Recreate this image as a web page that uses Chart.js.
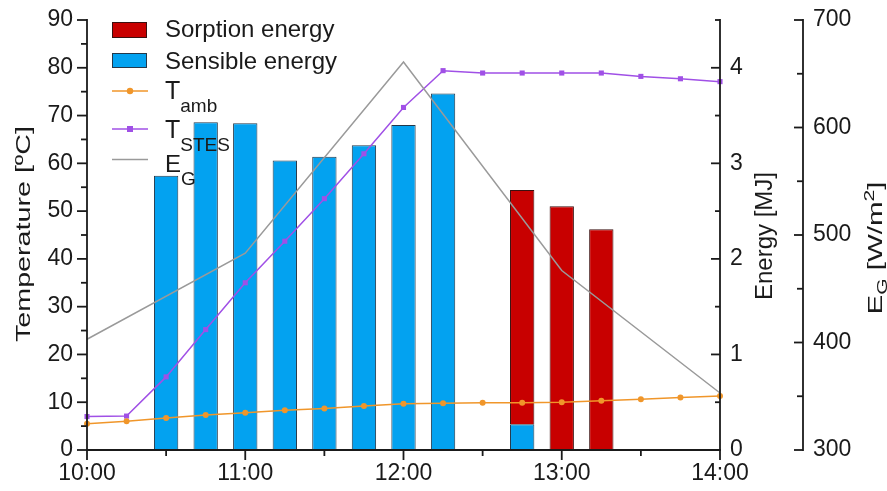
<!DOCTYPE html>
<html>
<head>
<meta charset="utf-8">
<script src="https://cdn.jsdelivr.net/npm/chart.js@4.4.1/dist/chart.umd.min.js"></script>
<style>
  html, body { margin: 0; padding: 0; background: #ffffff; }
  canvas { display: block; }
</style>
</head>
<body>
<canvas id="chart" width="887" height="491"></canvas>
<script>
// Time of day, every 15 minutes
const times = ['10:00','10:15','10:30','10:45','11:00','11:15','11:30','11:45',
               '12:00','12:15','12:30','12:45','13:00','13:15','13:30','13:45','14:00'];
const hourLabels = ['10:00','11:00','12:00','13:00','14:00'];

// Energy stored per interval [MJ]
const sensibleEnergy = [null, null, 2.87, 3.43, 3.42, 3.03, 3.07, 3.19, 3.40, 3.73,
                        null, 0.27, null, null, null, null, null];
const sorptionEnergy = [null, null, null, null, null, null, null, null, null, null,
                        null, 2.45, 2.55, 2.31, null, null, null];

// Temperatures [°C]
const tAmb  = [5.5, 6.0, 6.7, 7.3, 7.8, 8.3, 8.7, 9.2, 9.7, 9.8, 9.9, 9.9, 10.0, 10.3, 10.6, 11.0, 11.3];
const tStes = [7.0, 7.1, 15.3, 25.2, 35.0, 43.7, 52.6, 62.0, 71.7, 79.4, 78.9, 78.9, 78.9, 78.9, 78.2, 77.7, 77.1];

// Global irradiance [W/m²], hourly readings
const globalIrradiance = [403, null, null, null, 483, null, null, null, 661,
                          null, null, null, 467, null, null, null, 353];

// Axis tick values
const temperatureTicks = [0, 10, 20, 30, 40, 50, 60, 70, 80, 90];
const energyTicks = [0, 1, 2, 3, 4];
const irradianceTicks = [300, 400, 500, 600, 700];

const FONT = '"Liberation Sans", Arial, Helvetica, sans-serif';
const INK = '#1a1a1a';
const COLORS = {
  sorption: '#C80000',
  sensible: '#03A2F0',
  amb: '#F0962A',
  stes: '#A050E6',
  eg: '#9a9a9a'
};

// Draw a run of text pieces (with sub/superscripts) starting at x on a baseline
function drawRich(ctx, parts, x, baseline) {
  let cx = x;
  for (const p of parts) {
    ctx.font = p.size + 'px ' + FONT;
    ctx.fillText(p.text, cx, baseline + (p.shift || 0));
    cx += ctx.measureText(p.text).width;
  }
  return cx - x;
}
function richWidth(ctx, parts) {
  let w = 0;
  for (const p of parts) {
    ctx.font = p.size + 'px ' + FONT;
    w += ctx.measureText(p.text).width;
  }
  return w;
}
// Vertical axis title, read bottom-to-top, centred at (cx, cy), spread over `length` px
function drawVerticalTitle(ctx, parts, cx, cy, length, capSize) {
  const w = richWidth(ctx, parts);
  const s = length / w;
  ctx.save();
  ctx.translate(cx, cy);
  ctx.rotate(-Math.PI / 2);
  ctx.scale(s, 1);
  ctx.fillStyle = INK;
  ctx.textAlign = 'left';
  ctx.textBaseline = 'alphabetic';
  drawRich(ctx, parts, -w / 2, capSize * 0.716 / 2);
  ctx.restore();
}

const axesAndLegend = {
  id: 'axesAndLegend',
  afterDraw(chart) {
    const ctx = chart.ctx;
    const a = chart.chartArea;
    const x = chart.scales.x, y = chart.scales.y, yE = chart.scales.yE, yG = chart.scales.yG;
    ctx.save();
    ctx.strokeStyle = INK;
    ctx.lineWidth = 1.8;
    ctx.lineCap = 'butt';
    const line = (x1, y1, x2, y2) => { ctx.beginPath(); ctx.moveTo(x1, y1); ctx.lineTo(x2, y2); ctx.stroke(); };

    // axis lines
    line(a.left, a.top - 1, a.left, a.bottom + 1);
    line(a.left - 1, a.bottom, a.right + 1, a.bottom);
    line(a.right, a.top - 1, a.right, a.bottom + 1);
    const gx = yG.left;
    line(gx, yG.getPixelForValue(700) - 1, gx, yG.getPixelForValue(300) + 1);

    // temperature axis: ticks outward (left)
    for (let v = 0; v <= 90; v += 5) {
      const py = y.getPixelForValue(v);
      line(a.left, py, a.left - (v % 10 === 0 ? 10 : 6), py);
    }
    // time axis: hours and half hours, outward (down)
    times.forEach((t, i) => {
      const m = t.slice(3);
      if (m === '00' || m === '30') {
        const px = x.getPixelForValue(i);
        line(px, a.bottom, px, a.bottom + (m === '00' ? 10 : 6));
      }
    });
    // energy axis: ticks inward (left)
    for (let v = 0; v <= 4.5001; v += 0.5) {
      const py = yE.getPixelForValue(v);
      line(a.right, py, a.right - (Math.abs(v - Math.round(v)) < 1e-6 ? 9 : 5), py);
    }
    // irradiance axis: ticks to the left of its line
    for (let v = 300; v <= 700; v += 50) {
      const py = yG.getPixelForValue(v);
      line(gx, py, gx - (v % 100 === 0 ? 9 : 6), py);
    }

    // axis titles
    drawVerticalTitle(ctx, [{ text: 'Temperature [ºC]', size: 21 }], 22, 234, 216, 21);
    drawVerticalTitle(ctx, [{ text: 'Energy [MJ]', size: 23 }], 764, 236, 128, 23);
    drawVerticalTitle(ctx, [
      { text: 'E', size: 21 },
      { text: 'G', size: 15, shift: 5 },
      { text: ' [W/m', size: 21 },
      { text: '2', size: 15, shift: -8 },
      { text: ']', size: 21 }
    ], 874, 248, 133, 21);

    // legend
    ctx.textAlign = 'left';
    ctx.textBaseline = 'alphabetic';
    const lx = 112, lw = 35, tx = 165;
    ctx.lineWidth = 1;
    ctx.fillStyle = COLORS.sorption;
    ctx.fillRect(lx, 22, lw, 16);
    ctx.strokeStyle = '#3a1010';
    ctx.strokeRect(lx + 0.5, 22.5, lw - 1, 15);
    ctx.fillStyle = COLORS.sensible;
    ctx.fillRect(lx, 53, lw, 15);
    ctx.strokeStyle = '#24384a';
    ctx.strokeRect(lx + 0.5, 53.5, lw - 1, 14);

    ctx.lineWidth = 1.5;
    ctx.strokeStyle = COLORS.amb;
    line(lx, 91, lx + 36, 91);
    ctx.fillStyle = COLORS.amb;
    ctx.beginPath(); ctx.arc(lx + 18, 91, 3.2, 0, Math.PI * 2); ctx.fill();
    ctx.strokeStyle = COLORS.stes;
    line(lx, 129, lx + 36, 129);
    ctx.fillStyle = COLORS.stes;
    ctx.fillRect(lx + 18 - 3, 129 - 3, 6, 6);
    ctx.strokeStyle = COLORS.eg;
    line(lx, 159.5, lx + 36, 159.5);

    ctx.fillStyle = INK;
    drawRich(ctx, [{ text: 'Sorption energy', size: 24 }], tx, 37);
    drawRich(ctx, [{ text: 'Sensible energy', size: 24 }], tx, 68.5);
    drawRich(ctx, [{ text: 'T', size: 25 }, { text: 'amb', size: 19, shift: 13 }], tx, 99);
    drawRich(ctx, [{ text: 'T', size: 25 }, { text: 'STES', size: 19, shift: 13 }], tx, 137.5);
    drawRich(ctx, [{ text: 'E', size: 24 }, { text: 'G', size: 19, shift: 13 }], tx, 172);
    ctx.restore();
  }
};

const tickFont = { family: FONT, size: 23 };
// vertical scales: no extra space reserved above/below the plot for end labels
const noEndPadding = s => { s.paddingTop = 0; s.paddingBottom = 0; };

new Chart(document.getElementById('chart'), {
  data: {
    labels: times,
    datasets: [
      { type: 'line', label: 'T_amb', data: tAmb, yAxisID: 'y',
        borderColor: COLORS.amb, backgroundColor: COLORS.amb, borderWidth: 1.5,
        pointRadius: 3, pointStyle: 'circle', pointBorderWidth: 0, order: 1 },
      { type: 'line', label: 'T_STES', data: tStes, yAxisID: 'y',
        borderColor: COLORS.stes, backgroundColor: COLORS.stes, borderWidth: 1.5,
        pointRadius: 3.6, pointStyle: 'rect', pointBorderWidth: 0, order: 1 },
      { type: 'line', label: 'E_G', data: globalIrradiance, yAxisID: 'yG',
        borderColor: COLORS.eg, borderWidth: 1.5, pointRadius: 0, spanGaps: true, order: 0 },
      { type: 'bar', label: 'Sensible energy', data: sensibleEnergy, yAxisID: 'yE', stack: 'energy',
        backgroundColor: COLORS.sensible, borderColor: '#24384a', borderWidth: 1, order: 2 },
      { type: 'bar', label: 'Sorption energy', data: sorptionEnergy, yAxisID: 'yE', stack: 'energy',
        backgroundColor: COLORS.sorption, borderColor: '#3a1010', borderWidth: 1, order: 2 }
    ]
  },
  options: {
    responsive: false,
    animation: false,
    layout: { padding: { top: 20, bottom: 0, left: 0, right: 0 } },
    datasets: { bar: { barPercentage: 0.615, categoryPercentage: 1 }, line: { tension: 0 } },
    plugins: { legend: { display: false }, tooltip: { enabled: false } },
    scales: {
      x: {
        type: 'category', offset: false, stacked: true,
        grid: { display: false, drawTicks: false, offset: false }, border: { display: false },
        ticks: {
          autoSkip: false, maxRotation: 0, padding: 10, color: INK, font: tickFont,
          callback: (v, i) => hourLabels.includes(times[i]) ? times[i] : ''
        },
        afterFit: s => { s.height = 41; }
      },
      y: {
        position: 'left', min: 0, max: 90,
        grid: { display: false, drawTicks: false }, border: { display: false },
        ticks: { padding: 14, color: INK, font: tickFont },
        afterBuildTicks: s => { s.ticks = temperatureTicks.map(v => ({ value: v })); },
        afterFit: s => { s.width = 87; noEndPadding(s); }
      },
      yE: {
        position: 'right', min: 0, max: 4.5, stacked: true,
        grid: { display: false, drawTicks: false }, border: { display: false },
        ticks: { padding: 10, color: INK, font: tickFont },
        afterBuildTicks: s => { s.ticks = energyTicks.map(v => ({ value: v })); },
        afterFit: s => { s.width = 83; noEndPadding(s); }
      },
      yG: {
        position: 'right', min: 300, max: 700,
        grid: { display: false, drawTicks: false }, border: { display: false },
        ticks: { padding: 10, color: INK, font: tickFont },
        afterBuildTicks: s => { s.ticks = irradianceTicks.map(v => ({ value: v })); },
        afterFit: s => { s.width = 84; noEndPadding(s); }
      }
    }
  },
  plugins: [axesAndLegend]
});
</script>
</body>
</html>
